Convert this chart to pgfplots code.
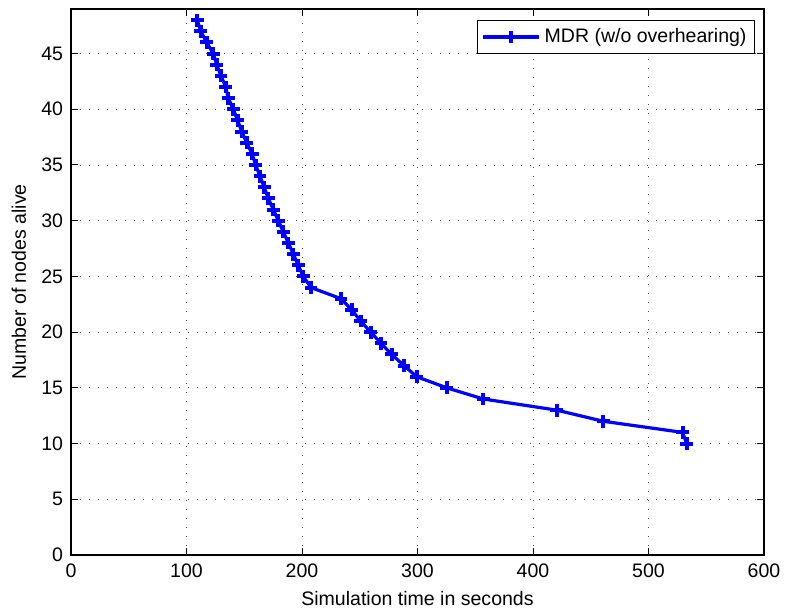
\documentclass[border=0pt]{standalone}
\usepackage{fontspec}
\setmainfont{Liberation Sans}
\usepackage{pgfplots}
\pgfplotsset{compat=1.18}
\begin{document}
\fontsize{9.8}{11.5}\selectfont
\begin{tikzpicture}
\begin{axis}[
  name=ax,
  scale only axis,
  width=346.5bp, height=273bp,
  xmin=0, xmax=600, ymin=0, ymax=49,
  xtick={0,100,...,600},
  ytick={0,5,...,45},
  tick align=inside,
  major tick length=3.5bp,
  axis line style={line width=0.6bp},
  every tick/.style={black, line width=0.5bp},
  grid=major,
  major grid style={black!70, line width=0.45bp, dash pattern=on 0.5bp off 4bp},
  /pgf/number format/assume math mode=true,
  scaled ticks=false,
  tick label style={font=\fontsize{9.8}{11}\selectfont},
  xticklabel style={yshift=-1bp},
  yticklabel style={xshift=-0.5bp},
  xlabel={Simulation time in seconds},
  ylabel={Number of nodes alive},
  label style={font=\fontsize{9.8}{11}\selectfont},
  xlabel style={yshift=0bp},
  ylabel style={yshift=1bp},
  legend style={at={(1,1)}, xshift=-4.5bp, yshift=-5.5bp, anchor=north east,
    draw=black, line width=0.5bp, font=\fontsize{9.8}{11}\selectfont,
    inner sep=2bp, cells={anchor=west}},
  legend image code/.code={\draw[mark repeat=2,mark phase=2] plot coordinates {(0bp,0bp) (14bp,0bp) (28bp,0bp)};},
]
\addplot[color={rgb,255:red,0;green,0;blue,255}, line width=1.6bp, mark=+, mark size=3.2bp, mark options={line width=2bp, solid}]
coordinates {
(109.4,48) (112.3,47) (117.5,46) (123.2,45) (126.2,44) (129.9,43) (133.9,42)
(136.2,41) (140.5,40) (144.3,39) (147.8,38) (152.1,37) (156.8,36) (159.9,35)
(163.6,34) (167.3,33) (170.8,32) (175.2,31) (179.5,30) (183.8,29) (188.2,28)
(192.5,27) (196.8,26) (201.1,25) (207.8,24) (233.8,23) (243.0,22) (250.8,21)
(259.5,20) (268.4,19) (277.6,18) (288.3,17) (299.3,16) (325.3,15) (357.0,14)
(420.5,13) (460.9,12) (529.6,11) (533.0,10)
};
\addlegendentry{MDR (w/o overhearing)}
\end{axis}
\pgfresetboundingbox
\path (ax.south west) ++(-35.5bp,-30.5bp) coordinate (bl);
\path (ax.north east) ++(10.5bp,4.5bp) coordinate (tr);
\path[use as bounding box] (bl) rectangle (tr);
\end{tikzpicture}
\end{document}
